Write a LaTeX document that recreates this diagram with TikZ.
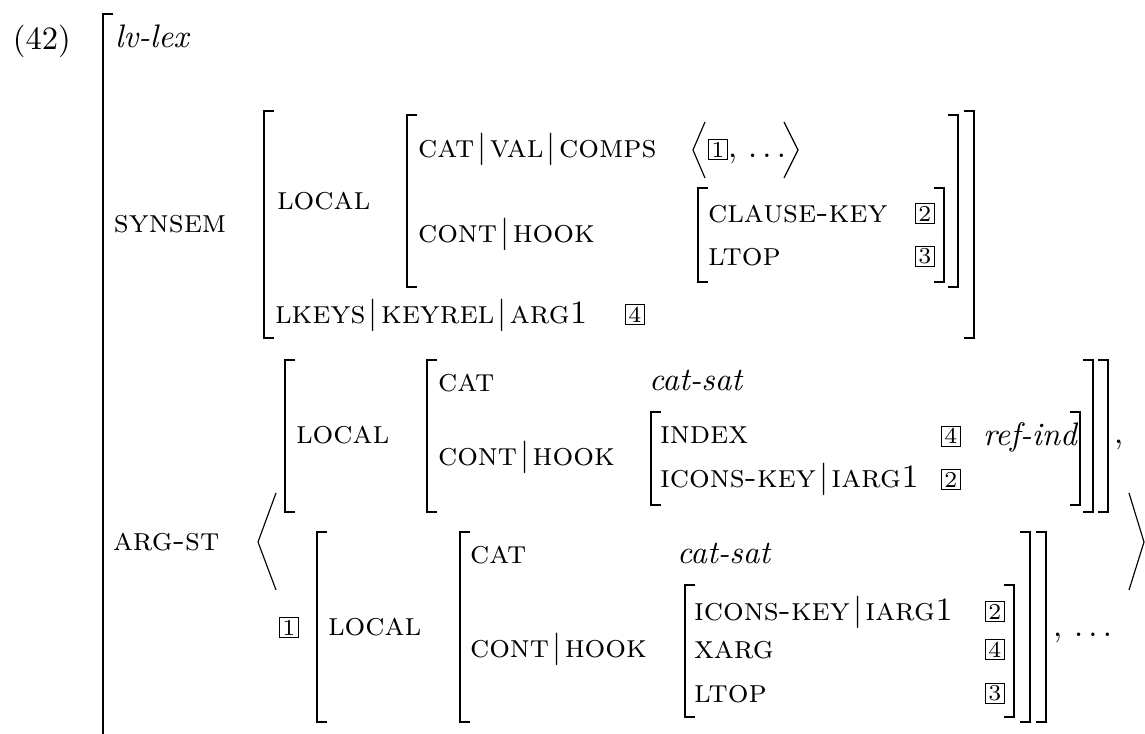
\documentclass[tikz,border=0pt]{standalone}
\newcommand{\avmbar}{\kern1pt$|$\kern1pt}
% left and right square brackets: x, top, bottom
\newcommand{\lbrk}[3]{\draw[brk] (#1+10,#2) -- (#1,#2) -- (#1,#3) -- (#1+10,#3);}
\newcommand{\rbrk}[3]{\draw[brk] (#1-10,#2) -- (#1,#2) -- (#1,#3) -- (#1-10,#3);}
\begin{document}
\begin{tikzpicture}[x=0.307pt,y=-0.307pt,
  txt/.style={anchor=base west, inner sep=0pt, outer sep=0pt},
  tagbox/.style={draw, line width=0.3pt, anchor=south west, inner sep=0pt,
    outer sep=0pt, minimum width=6.1pt, minimum height=6.1pt, font=\scriptsize},
  brk/.style={line width=0.6pt, line join=miter},
  ang/.style={line width=0.35pt, line join=miter}]
\useasboundingbox (0,0) rectangle (1145,734);

% example number and type
\node[txt] (exnum) at (13,50) {(42)};
\node[txt] (lvlex) at (115,48) {\textit{lv-lex}};
\lbrk{103}{14}{760}

% SYNSEM
\node[txt] (synsem) at (114,233) {\textsc{synsem}};
\lbrk{264}{111}{338}
\rbrk{974}{111}{338}
\node[txt] (localA) at (277,210) {\textsc{local}};
\lbrk{407}{115}{287}
\rbrk{958}{115}{287}
\node[txt] (comps) at (418,158) {\textsc{cat}\avmbar\textsc{val}\avmbar\textsc{comps}};
\draw[ang] (705,122) -- (693,150) -- (705,178);
\node[tagbox] (compsA) at (708,159.5) {1};
\node[txt] (compsC) at (728,158) {,};
\node[txt] (compsD) at (748,158) {$\ldots$};
\draw[ang] (784,122) -- (798,150) -- (784,178);
\node[txt] (hookA) at (418,243) {\textsc{cont}\avmbar\textsc{hook}};
\lbrk{698}{188}{282}
\rbrk{944}{188}{282}
\node[txt] (ckey) at (708,222) {\textsc{clause-key}};
\node[tagbox] (ckeyT) at (915,223.5) {2};
\node[txt] (ltopA) at (708,265) {\textsc{ltop}};
\node[tagbox] (ltopT) at (915,266.5) {3};
\node[txt] (lkeys) at (275,323) {\textsc{lkeys}\avmbar\textsc{keyrel}\avmbar\textsc{arg1}};
\node[tagbox] (lkeysT) at (625,324.5) {4};

% ARG-ST
\node[txt] (argst) at (113,550) {\textsc{arg-st}};
\draw[ang] (276,493) -- (258,542) -- (276,590);
\draw[ang] (1129,493) -- (1144,542) -- (1129,590);

% first element
\lbrk{285}{360}{512}
\rbrk{1108}{360}{512}
\node[txt] (localB) at (296,443) {\textsc{local}};
\lbrk{427}{360}{512}
\rbrk{1093}{360}{512}
\node[txt] (catB) at (438,391) {\textsc{cat}};
\node[txt] (catsatB) at (649,390) {\textit{cat-sat}};
\node[txt] (hookB) at (438,465) {\textsc{cont}\avmbar\textsc{hook}};
\lbrk{651}{412}{505}
\rbrk{1080}{412}{505}
\node[txt] (index) at (660,443) {\textsc{index}};
\node[tagbox] (indexT) at (941,446) {4};
\node[txt] (refind) at (983,445) {\textit{ref-ind}};
\node[txt] (iconsB) at (660,487) {\textsc{icons-key}\avmbar\textsc{iarg1}};
\node[tagbox] (iconsBT) at (941,489.5) {2};
\node[txt] (commaB) at (1114,443) {,};

% second element
\node[tagbox] (elemT) at (279,637.5) {1};
\lbrk{317}{532}{722}
\rbrk{1046}{532}{722}
\node[txt] (localC) at (328,635) {\textsc{local}};
\lbrk{460}{532}{722}
\rbrk{1030}{532}{722}
\node[txt] (catC) at (470,563) {\textsc{cat}};
\node[txt] (catsatC) at (677,563) {\textit{cat-sat}};
\node[txt] (hookC) at (470,657) {\textsc{cont}\avmbar\textsc{hook}};
\lbrk{685}{585}{717}
\rbrk{1014}{585}{717}
\node[txt] (iconsC) at (694,620) {\textsc{icons-key}\avmbar\textsc{iarg1}};
\node[tagbox] (iconsCT) at (985,621.5) {2};
\node[txt] (xarg) at (694,658) {\textsc{xarg}};
\node[tagbox] (xargT) at (985,659.5) {4};
\node[txt] (ltopC) at (694,702) {\textsc{ltop}};
\node[tagbox] (ltopCT) at (985,703.5) {3};
\node[txt] (commaC) at (1053,636) {,};
\node[txt] (dotsC) at (1074,636) {$\ldots$};
\end{tikzpicture}
\end{document}
